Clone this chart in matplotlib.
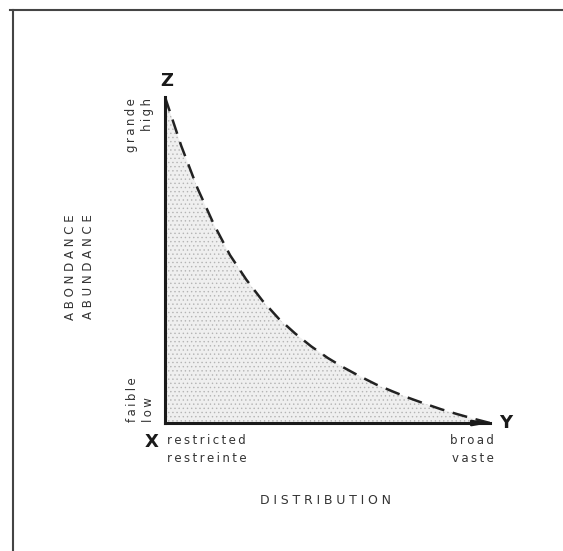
import matplotlib.pyplot as plt
from matplotlib.lines import Line2D

W, H = 563, 551

# curve (fraction of distribution, fraction of abundance)
distribution = [0.0, 0.05, 0.1, 0.15, 0.2, 0.25, 0.3, 0.35, 0.4, 0.45, 0.5,
                0.55, 0.6, 0.65, 0.7, 0.75, 0.8, 0.85, 0.9, 0.95, 1.0]
abundance = [1.0, 0.85, 0.72, 0.61, 0.515, 0.44, 0.375, 0.32, 0.275, 0.235, 0.20,
             0.17, 0.143, 0.118, 0.097, 0.077, 0.059, 0.042, 0.027, 0.013, 0.0]

TITLE_X = "DISTRIBUTION"
TITLE_Y = ["ABONDANCE", "ABUNDANCE"]
X_LOW = ["restricted", "restreinte"]
X_HIGH = ["broad", "vaste"]
Y_HIGH = ["grande", "high"]
Y_LOW = ["faible", "low"]


def spaced(s, sep="\u2009"):
    return sep.join(s)


def px(x, y):
    # pixel position (from top-left) -> figure fraction
    return x / W, 1 - y / H


fig = plt.figure(figsize=(W / 100, H / 100), dpi=100)
fig.patch.set_facecolor("white")

# plot area: x 165..490, y 97..423 in pixels
ax = fig.add_axes([165 / W, 1 - 423 / H, 325 / W, 326 / H])
ax.set_xlim(0, 1)
ax.set_ylim(0, 1)
ax.set_xticks([])
ax.set_yticks([])
for side in ["top", "right"]:
    ax.spines[side].set_visible(False)
for side in ["left", "bottom"]:
    ax.spines[side].set_linewidth(2.2)
    ax.spines[side].set_color("#1a1a1a")
ax.patch.set_alpha(0)

plt.rcParams["hatch.linewidth"] = 0.5
ax.fill_between(distribution, abundance, 0, facecolor="#efefef",
                edgecolor="#b4b4b4", hatch="....", linewidth=0)
ax.plot(distribution, abundance, color="#222222", lw=1.8,
        dashes=(6, 3.5), solid_capstyle="butt")
ax.annotate("", xy=(1.01, 0), xytext=(0.95, 0),
            arrowprops=dict(arrowstyle="-|>,head_length=0.8,head_width=0.14",
                            color="#1a1a1a", lw=2), annotation_clip=False)

# corner letters
fig.text(*px(167, 81), "Z", fontsize=13, fontweight="bold", ha="center", va="center", color="#1a1a1a")
fig.text(*px(152, 442), "X", fontsize=13, fontweight="bold", ha="center", va="center", color="#1a1a1a")
fig.text(*px(506, 423), "Y", fontsize=13, fontweight="bold", ha="center", va="center", color="#1a1a1a")

txt = dict(color="#333333", fontsize=8.5)
fig.text(*px(132, 98), spaced(Y_HIGH[0]), rotation=90, ha="center", va="top", **txt)
fig.text(*px(148, 98), spaced(Y_HIGH[1]), rotation=90, ha="center", va="top", **txt)
fig.text(*px(132, 422), spaced(Y_LOW[0]), rotation=90, ha="center", va="bottom", **txt)
fig.text(*px(149, 422), spaced(Y_LOW[1]), rotation=90, ha="center", va="bottom", **txt)

fig.text(*px(167, 440), spaced(X_LOW[0]), ha="left", va="center", **txt)
fig.text(*px(167, 459), spaced(X_LOW[1]), ha="left", va="center", **txt)
fig.text(*px(494, 440), spaced(X_HIGH[0]), ha="right", va="center", **txt)
fig.text(*px(494, 459), spaced(X_HIGH[1]), ha="right", va="center", **txt)

fig.text(*px(71, 267), spaced(TITLE_Y[0], " "), rotation=90, ha="center", va="center", **txt)
fig.text(*px(89, 267), spaced(TITLE_Y[1], " "), rotation=90, ha="center", va="center", **txt)
fig.text(*px(326, 500), spaced(TITLE_X, "\u2009\u200a"), ha="center", va="center",
         color="#333333", fontsize=9)

# page frame (top and left edges)
fig.add_artist(Line2D([10 / W, 1], [1 - 10 / H, 1 - 10 / H], color="#444444", lw=1.5))
fig.add_artist(Line2D([13 / W, 13 / W], [1 - 10 / H, 0], color="#444444", lw=1.5))

fig.savefig("out.png", dpi=100, facecolor="white")
